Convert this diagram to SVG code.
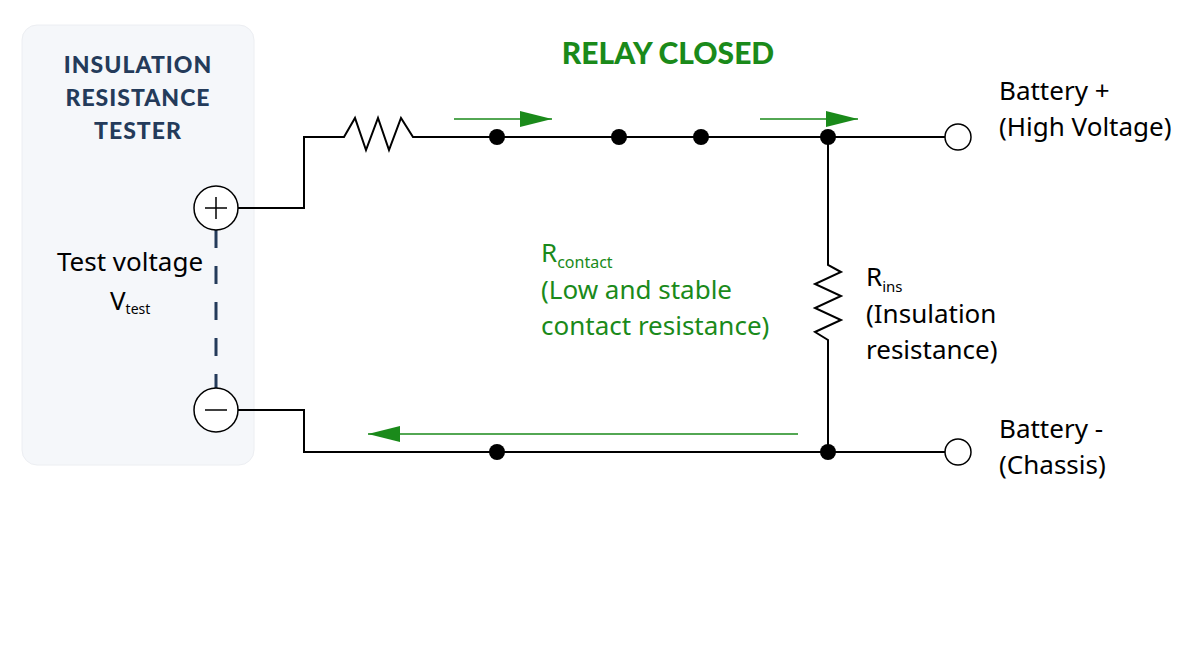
<svg xmlns="http://www.w3.org/2000/svg" width="1200" height="650" viewBox="0 0 1200 650">
<style>
.w{fill:none;stroke:#000;stroke-width:2}
.g{stroke:#1a8a1a;stroke-width:1.5;fill:none}
.t{font-family:"Noto Sans",sans-serif;font-size:26px}
.dot{fill:#000}
</style>
<defs>
<marker id="a2" viewBox="0 0 32 16" markerWidth="32" markerHeight="16" refX="32" refY="8" orient="auto" markerUnits="userSpaceOnUse"><path d="M0,0L32,8L0,16z" fill="#1a8a1a"/></marker></defs>
<g id="tester">
<rect x="22" y="25" width="232" height="440" rx="15" fill="#f5f7fa" stroke="#eceef2"/>
<text x="138" y="73" text-anchor="middle" font-family="Lato,'Noto Sans',sans-serif" font-weight="900" font-size="23" fill="#243b5a" letter-spacing="1"><tspan x="138">INSULATION</tspan><tspan x="138" dy="33">RESISTANCE</tspan><tspan x="138" dy="33">TESTER</tspan></text>
<text x="130" y="271" text-anchor="middle" class="t" font-size="23">Test voltage</text>
<text x="110" y="310" class="t" font-size="23">V<tspan font-size="14" dy="4">test</tspan></text>
<line x1="216" y1="230" x2="216" y2="388" stroke="#243b5a" stroke-width="3" stroke-dasharray="18,18"/>
<circle cx="216" cy="208" r="22" fill="#fff" stroke="#000" stroke-width="1.5"/>
<path d="M205,208H227M216,197V219" stroke="#000" stroke-width="1.5"/>
<circle cx="216" cy="410" r="22" fill="#fff" stroke="#000" stroke-width="1.5"/>
<path d="M205,410H227" stroke="#000" stroke-width="1.5"/>
</g>
<g id="connectors">
<path class="w" d="M238,208H304V137H344L355,118L366,150L378,118L389,150L401,118L413,137H945"/>
<path class="w" d="M238,410H304V452H945"/>
<path class="w" d="M828,137V265L841,272L815,284L841,296L815,308L841,320L815,332L828,340V452"/>
<line class="g" x1="454" y1="119" x2="552" y2="119" marker-end="url(#a2)"/>
<line class="g" x1="760" y1="119" x2="858" y2="119" marker-end="url(#a2)"/>
<line class="g" x1="798" y1="434" x2="368" y2="434" marker-end="url(#a2)"/>
</g>
<g id="dots">
<circle class="dot" cx="497" cy="137" r="8"/><circle class="dot" cx="619" cy="137" r="8"/><circle class="dot" cx="701" cy="137" r="8"/><circle class="dot" cx="828" cy="137" r="8"/>
<circle class="dot" cx="497" cy="452" r="8"/><circle class="dot" cx="828" cy="452" r="8"/>
</g>
<g id="terminals">
<circle cx="958" cy="137" r="13" fill="#fff" stroke="#000" stroke-width="1.5"/>
<circle cx="958" cy="452" r="13" fill="#fff" stroke="#000" stroke-width="1.5"/>
<text class="t" x="999" y="100">Battery +</text><text class="t" x="999" y="136">(High Voltage)</text>
<text class="t" x="999" y="438">Battery -</text><text class="t" x="999" y="474">(Chassis)</text>
</g>
<g id="labels">
<text x="668" y="64" text-anchor="middle" font-family="Lato,'Noto Sans',sans-serif" font-weight="900" font-size="30" fill="#1a8a1a">RELAY CLOSED</text>
<text class="t" x="541" y="262" fill="#1a8a1a">R<tspan font-size="16" dy="6">contact</tspan></text>
<text class="t" x="541" y="299" fill="#1a8a1a">(Low and stable</text>
<text class="t" x="541" y="335" fill="#1a8a1a">contact resistance)</text>
<text class="t" x="866" y="286">R<tspan font-size="15" dy="6">ins</tspan></text>
<text class="t" x="866" y="323">(Insulation</text>
<text class="t" x="866" y="359">resistance)</text>
</g>
</svg>
